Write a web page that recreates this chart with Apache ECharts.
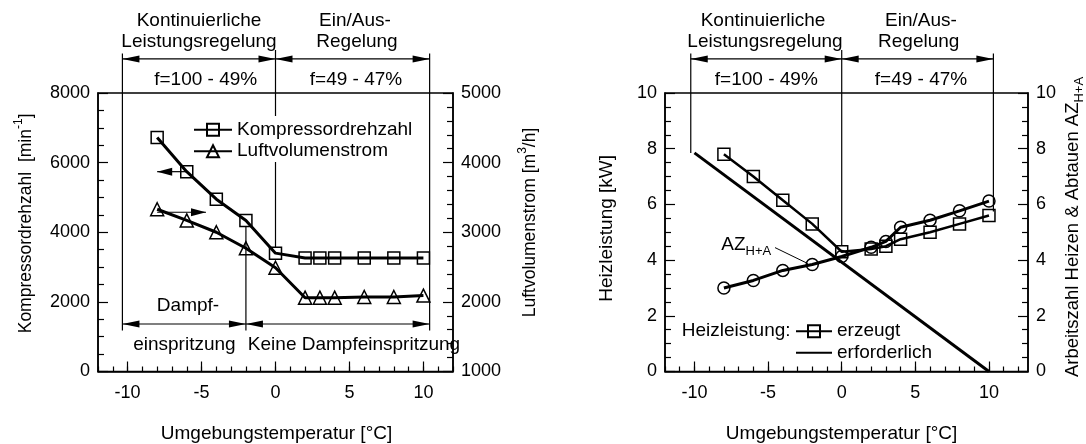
<!DOCTYPE html>
<html>
<head>
<meta charset="utf-8">
<script src="https://cdn.jsdelivr.net/npm/echarts@6/dist/echarts.min.js"></script>
<style>
  html, body { margin: 0; padding: 0; background: #fff; }
  #chart { width: 1086px; height: 444px; }
</style>
</head>
<body>
<div id="chart"></div>
<script>
// linkes Diagramm: Kompressordrehzahl / Luftvolumenstrom
const tempLeft = [-8, -6, -4, -2, 0, 2, 3, 4, 6, 8, 10]
const drehzahl = [6720, 5740, 4950, 4340, 3400, 3260, 3260, 3260, 3260, 3260, 3260]
const luftvolumen = [3330, 3170, 3000, 2770, 2490, 2060, 2060, 2060, 2070, 2070, 2090]

// rechtes Diagramm: Heizleistung / Arbeitszahl
const tempRight = [-8, -6, -4, -2, 0, 2, 3, 4, 6, 8, 10]
const erzeugt = [7.8, 7.0, 6.15, 5.3, 4.3, 4.4, 4.5, 4.75, 5.0, 5.3, 5.6]
const azHA = [3.0, 3.27, 3.63, 3.84, 4.13, 4.46, 4.67, 5.18, 5.43, 5.77, 6.12]
const erfTemp = [-10, 10]
const erforderlich = [7.85, 0]

// Achsenteilung
const xMajor = [-10, -5, 0, 5, 10]
const xMinor = [-12, -11, -10, -9, -8, -7, -6, -5, -4, -3, -2, -1, 0, 1, 2, 3, 4, 5, 6, 7, 8, 9, 10, 11, 12]

const FONT = "'Liberation Sans', Arial, Helvetica, sans-serif"
const BLACK = '#000'
const FS = 19

const chart = echarts.init(document.querySelector('#chart'))

function pairs(xs, ys) {
    return xs.map((x, i) => [x, ys[i]])
}

function xAxes(grid, max) {
    return [{
        type: 'value', gridIndex: grid, min: -12, max: max, position: 'bottom',
        axisLine: { onZero: false, lineStyle: { color: BLACK, width: 1.5 } },
        axisTick: { inside: true, length: 5, customValues: xMinor, lineStyle: { color: BLACK, width: 1.2 } },
        axisLabel: { show: false },
        splitLine: { show: false }
    }, {
        type: 'value', gridIndex: grid, min: -12, max: max, position: 'bottom',
        axisLine: { show: false, onZero: false },
        axisTick: { inside: true, length: 10, customValues: xMajor, lineStyle: { color: BLACK, width: 1.2 } },
        axisLabel: { customValues: xMajor, margin: 13, fontSize: 18, color: BLACK, fontFamily: FONT, formatter: v => String(v) },
        splitLine: { show: false }
    }]
}

function yAxis(grid, pos, min, max, interval, minorSplit) {
    return {
        type: 'value', gridIndex: grid, position: pos, min: min, max: max, interval: interval,
        axisLine: { show: true, onZero: false, lineStyle: { color: BLACK, width: 1.5 } },
        axisTick: { show: true, inside: true, length: 10, lineStyle: { color: BLACK, width: 1.2 } },
        minorTick: { show: true, splitNumber: minorSplit, length: 6, lineStyle: { color: BLACK, width: 1.2 } },
        axisLabel: { margin: 8, fontSize: 18, color: BLACK, fontFamily: FONT, formatter: v => String(v) },
        splitLine: { show: false }
    }
}

function lineSeries(name, xi, yi, data, symbol, size, width) {
    return {
        name: name, type: 'line', xAxisIndex: xi, yAxisIndex: yi, data: data,
        symbol: symbol, symbolSize: size, showAllSymbol: true,
        lineStyle: { color: BLACK, width: width },
        itemStyle: { color: 'rgba(255,255,255,0)', borderColor: BLACK, borderWidth: 1.5 },
        emphasis: { disabled: true },
        z: 3
    }
}

const legendText = { fontSize: FS, color: BLACK, fontFamily: FONT, lineHeight: 21.5 }

chart.setOption({
    animation: false,
    backgroundColor: '#fff',
    textStyle: { fontFamily: FONT },
    grid: [
        { left: 98, top: 93, width: 355, height: 278.5, show: true, borderColor: BLACK, borderWidth: 1.5 },
        { left: 665, top: 93, width: 363, height: 278.5, show: true, borderColor: BLACK, borderWidth: 1.5 }
    ],
    xAxis: [...xAxes(0, 12), ...xAxes(1, 12.65)],
    yAxis: [
        yAxis(0, 'left', 0, 8000, 2000, 4),
        yAxis(0, 'right', 1000, 5000, 1000, 5),
        yAxis(1, 'left', 0, 10, 2, 4),
        yAxis(1, 'right', 0, 10, 2, 4)
    ],
    legend: [{
        left: 193, top: 119, orient: 'vertical', padding: 0, itemGap: 0,
        itemWidth: 38, itemHeight: 15, selectedMode: false,
        data: ['Kompressordrehzahl', 'Luftvolumenstrom'], textStyle: legendText
    }, {
        left: 795, top: 320.5, orient: 'vertical', padding: 0, itemGap: 0,
        itemWidth: 36, itemHeight: 15, selectedMode: false,
        data: ['erzeugt', { name: 'erforderlich', itemStyle: { opacity: 0 } }], textStyle: legendText
    }],
    series: [
        lineSeries('Kompressordrehzahl', 0, 0, pairs(tempLeft, drehzahl), 'rect', 12, 3),
        lineSeries('Luftvolumenstrom', 0, 1, pairs(tempLeft, luftvolumen), 'triangle', 13, 3),
        lineSeries('erzeugt', 2, 2, pairs(tempRight, erzeugt), 'rect', 12, 2.5),
        lineSeries('erforderlich', 2, 2, pairs(erfTemp, erforderlich), 'none', 0, 3),
        lineSeries('AZ', 2, 3, pairs(tempRight, azHA), 'circle', 12, 3)
    ]
})

// Hilfslinien, Pfeile und Beschriftungen
function px(xi, yi, x, y) {
    return chart.convertToPixel({ xAxisIndex: xi, yAxisIndex: yi }, [x, y])
}
function seg(x1, y1, x2, y2, w) {
    return { type: 'line', z: 5, shape: { x1: x1, y1: y1, x2: x2, y2: y2 }, style: { stroke: BLACK, lineWidth: w || 1.2 } }
}
function head(x, y, dir, len, half) {
    return { type: 'polygon', z: 5, shape: { points: [[x, y], [x - dir * len, y - half], [x - dir * len, y + half]] }, style: { fill: BLACK } }
}
function dblArrow(x1, x2, y) {
    return [seg(x1, y, x2, y), head(x1, y, -1, 17, 3.5), head(x2, y, 1, 17, 3.5)]
}
function txt(text, x, y, extra) {
    return {
        type: 'text', z: 5, x: x, y: y, rotation: (extra && extra.rot) || 0,
        style: Object.assign({ text: text, fontSize: FS, fontFamily: FONT, fill: BLACK, align: 'center', verticalAlign: 'middle' }, extra && extra.style)
    }
}
const supRich = {
    a: { fontSize: FS, fontFamily: FONT, lineHeight: 26 },
    s: { fontSize: 12, fontFamily: FONT, lineHeight: 10, verticalAlign: 'top' },
    b: { fontSize: 13, fontFamily: FONT, lineHeight: 10, verticalAlign: 'bottom' }
}
// etwas kleinere Schrift fuer die Achsentitel links
const supRichSmall = Object.assign({}, supRich, { a: { fontSize: 17.5, fontFamily: FONT, lineHeight: 26 } })

// linkes Diagramm
const lx = x => px(0, 0, x, 0)[0]
const ly = v => px(0, 0, 0, v)[1]
const ry = v => px(0, 1, 0, v)[1]
const L1 = lx(-10.35), L0 = lx(0), L2 = lx(10.42), Ld = lx(-2)
// rechtes Diagramm
const rx = x => px(2, 2, x, 0)[0]
const hy = v => px(2, 2, 0, v)[1]
const R1 = rx(-10.25), R0 = rx(0), R2 = rx(10.3)

const g = [
    seg(L1, 53.5, L1, 330.5), seg(L2, 53.5, L2, 330.5),
    seg(L0, 50, L0, 116), seg(L0, 162, L0, ly(drehzahl[4]) - 6),
    seg(Ld, ly(drehzahl[3]) + 6, Ld, 330.5),
    ...dblArrow(L1, L0, 58.9), ...dblArrow(L0, L2, 58.9),
    ...dblArrow(L1, Ld, 324), ...dblArrow(Ld, L2, 324),
    txt('Kontinuierliche', 199, 20.8), txt('Leistungsregelung', 199, 42.2),
    txt('Ein/Aus-', 355, 20.8), txt('Regelung', 357, 42.2),
    txt('f=100 - 49%', 205.7, 79.6), txt('f=49 - 47%', 356, 79.6),
    txt('Dampf-', 188, 306.2), txt('einspritzung', 184.4, 344.3),
    txt('Keine Dampfeinspritzung', 354, 344.3),
    // Achsenpfeile
    seg(lx(-8), ly(drehzahl[1]), lx(-6), ly(drehzahl[1])), head(lx(-8), ly(drehzahl[1]), -1, 15, 4),
    seg(lx(-8), ry(luftvolumen[0]) + 3, lx(-4.7), ry(luftvolumen[0]) + 3), head(lx(-4.7), ry(luftvolumen[0]) + 3, 1, 15, 4),
    // Achsentitel links
    txt('{a|Kompressordrehzahl  [min}{s|-1}{a|]}', 26, 223.4, { rot: Math.PI / 2, style: { rich: supRichSmall } }),
    txt('{a|Luftvolumenstrom [m}{s|3}{a|/h]}', 530, 222.5, { rot: Math.PI / 2, style: { rich: supRichSmall } }),
    txt('Umgebungstemperatur [°C]', 276.5, 434),

    // rechtes Diagramm
    seg(R1, 53.5, R1, hy(erforderlich[0])), seg(R0, 50, R0, hy(erzeugt[4]) - 6), seg(R2, 53.5, R2, hy(erzeugt[10]) - 4),
    ...dblArrow(R1, R0, 58.9), ...dblArrow(R0, R2, 58.9),
    txt('Kontinuierliche', 763, 20.8), txt('Leistungsregelung', 765, 42.2),
    txt('Ein/Aus-', 921, 20.8), txt('Regelung', 918.7, 42.2),
    txt('f=100 - 49%', 766.3, 79.6), txt('f=49 - 47%', 921, 79.6),
    txt('{a|AZ}{b|H+A}', 721.3, 245.2, { style: { rich: supRich, align: 'left' } }),
    seg(775, 247.6, 807.9, 263.6, 1),
    txt('Heizleistung:', 790.6, 331.2, { style: { align: 'right' } }),
    txt('Heizleistung [kW]', 607, 228.3, { rot: Math.PI / 2 }),
    txt('{a|Arbeitszahl Heizen & Abtauen AZ}{b|H+A}', 1073, 227, { rot: Math.PI / 2, style: { rich: Object.assign({}, supRich, { a: { fontSize: 18.5, fontFamily: FONT, lineHeight: 26 } }) } }),
    txt('Umgebungstemperatur [°C]', 841.6, 434)
]

chart.setOption({ graphic: g })
</script>
</body>
</html>
